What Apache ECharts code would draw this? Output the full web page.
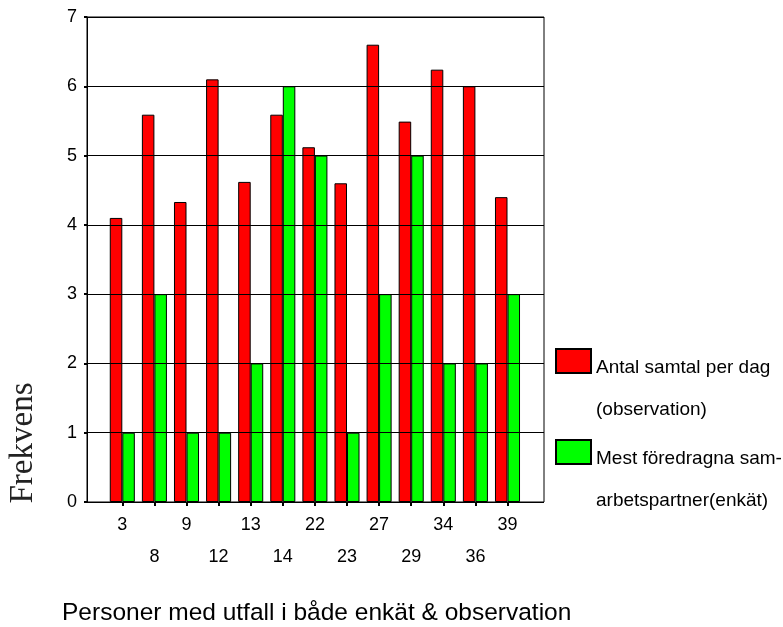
<!DOCTYPE html>
<html>
<head>
<meta charset="utf-8">
<script src="https://cdn.jsdelivr.net/npm/echarts@6/dist/echarts.min.js"></script>
<style>
html,body{margin:0;padding:0;background:#fff;}
#c{width:783px;height:627px;}
</style>
</head>
<body>
<div id="c"></div>
<script>
var categories = ['3','8','9','12','13','14','22','23','27','29','34','36','39'];
var antalSamtal = [4.1, 5.59, 4.33, 6.1, 4.62, 5.59, 5.12, 4.6, 6.6, 5.49, 6.24, 6.0, 4.4];
var mestForedragna = [1, 3, 1, 1, 2, 6, 5, 1, 3, 5, 2, 2, 3];
var seriesNames = ['Antal samtal per dag', 'Mest föredragna sam-'];
var legendSecondLines = ['(observation)', 'arbetspartner(enkät)'];
var yMin = 0, yMax = 7, yStep = 1;

var SANS = '"Liberation Sans", Arial, sans-serif';
var chart = echarts.init(document.getElementById('c'));
chart.setOption({
  animation: false,
  backgroundColor: '#fff',
  grid: [
    {left: 87, top: 17, width: 457, height: 485, show: true, borderColor: '#000', borderWidth: 1, backgroundColor: 'transparent'},
    {left: 106.25, top: 17, width: 417.3, height: 485}
  ],
  xAxis: [
    {gridIndex: 0, type: 'value', show: false, min: 0, max: 1},
    {gridIndex: 1, type: 'category', data: categories,
     axisLine: {show: false},
     axisTick: {show: true, alignWithLabel: true, length: 4, lineStyle: {color: '#000', width: 2}},
     axisLabel: {interval: 0, margin: 7, fontSize: 18, fontFamily: SANS, color: '#000', lineHeight: 32,
       formatter: function (v, i) { return i % 2 ? '\n' + v : v; }}
    }
  ],
  yAxis: [
    {gridIndex: 0, type: 'value', min: yMin, max: yMax, interval: yStep, z: 10,
     axisLine: {show: true, lineStyle: {color: '#000', width: 1}},
     axisTick: {show: true, length: 3, lineStyle: {color: '#000', width: 2}},
     axisLabel: {margin: 10, fontSize: 18, fontFamily: SANS, color: '#000'},
     splitLine: {show: true, lineStyle: {color: '#000', width: 1}}
    },
    {gridIndex: 1, type: 'value', min: yMin, max: yMax, interval: yStep, show: false, splitLine: {show: false}}
  ],
  legend: {
    orient: 'vertical', left: 555, top: 291, padding: 0, itemGap: -49,
    itemWidth: 35, itemHeight: 24, selectedMode: false,
    icon: 'rect',
    formatter: function (name) {
      var i = seriesNames.indexOf(name);
      return '{s| }\n{a|' + name + '}\n{a|' + legendSecondLines[i] + '}';
    },
    textStyle: {fontSize: 19, fontFamily: SANS, color: '#000',
      rich: {
        s: {fontSize: 19, fontFamily: SANS, lineHeight: 56, height: 56},
        a: {fontSize: 19, fontFamily: SANS, color: '#000', lineHeight: 42, height: 42}
      }
    },
    data: seriesNames
  },
  series: [
    {name: seriesNames[0], type: 'bar', xAxisIndex: 1, yAxisIndex: 1, data: antalSamtal,
     barGap: '0%', barCategoryGap: '22%',
     itemStyle: {color: '#ff0000', borderColor: '#000', borderWidth: 1}},
    {name: seriesNames[1], type: 'bar', xAxisIndex: 1, yAxisIndex: 1, data: mestForedragna,
     barGap: '0%', barCategoryGap: '22%',
     itemStyle: {color: '#00ff00', borderColor: '#000', borderWidth: 1}}
  ],
  graphic: [
    {type: 'text', left: 62, top: 601, style: {text: 'Personer med utfall i både enkät & observation', fontSize: 24.5, fontFamily: SANS, fill: '#000'}},
    {type: 'text', x: 23, y: 443, rotation: Math.PI / 2,
     style: {text: 'Frekvens', fontSize: 33, fontFamily: '"Liberation Serif", "Times New Roman", serif', fill: '#222', align: 'center', verticalAlign: 'middle'}}
  ]
});
</script>
</body>
</html>
